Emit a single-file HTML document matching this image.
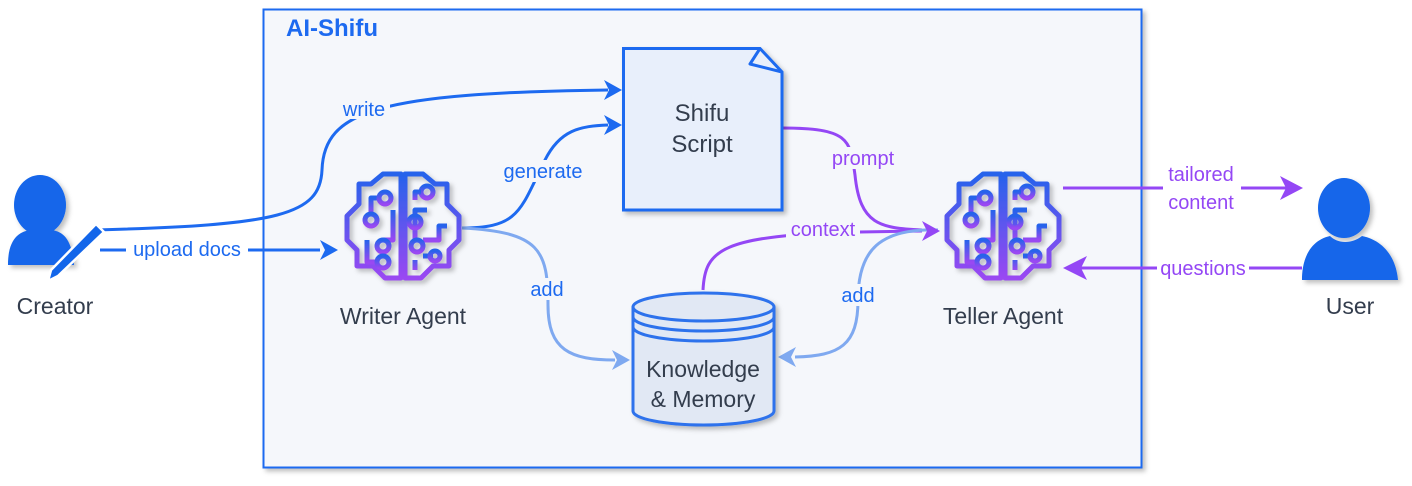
<!DOCTYPE html>
<html><head><style>
html,body{margin:0;padding:0;background:#fff;}
svg{display:block;font-family:"Liberation Sans",Helvetica,Arial,sans-serif;}
</style></head><body>
<svg width="1412" height="486" viewBox="0 0 1412 486" xmlns="http://www.w3.org/2000/svg">
<defs>
<linearGradient id="bg" x1="0" y1="0" x2="0" y2="1">
<stop offset="0" stop-color="#2563eb"/><stop offset="1" stop-color="#9a48f2"/>
</linearGradient>
<filter id="sh" x="-20%" y="-20%" width="150%" height="150%"><feDropShadow dx="3" dy="3" stdDeviation="2.5" flood-color="#000" flood-opacity="0.25"/></filter>
<g id="brain" fill="none" stroke="url(#bg)" stroke-width="5" stroke-linejoin="round">
<path d="M58 4 L40 4 L28 14 L16 14 L16 34 L4 46 L4 70 L14 80 L14 96 L30 96 L42 108 L58 108 Z"/>
<path d="M62 4 L80 4 L92 14 L104 14 L104 34 L116 46 L116 70 L106 80 L106 96 L90 96 L78 108 L62 108 Z"/>
<path d="M28 44 L28 28 L36 28"/><circle cx="42" cy="28" r="6"/>
<circle cx="28" cy="50" r="6"/>
<path d="M50 40 L50 70 L40 70"/><circle cx="40" cy="76" r="6"/>
<path d="M24 70 L24 92 L34 92"/><circle cx="40" cy="92" r="6"/>
<path d="M72 70 L72 40 L84 40"/><circle cx="84" cy="22" r="6"/>
<path d="M72 30 L72 22 L78 22"/>
<circle cx="72" cy="52" r="6"/>
<path d="M80 70 L96 70 L96 56 L104 56"/><circle cx="74" cy="76" r="6"/>
<path d="M72 90 L72 100 M80 86 L90 86"/><circle cx="92" cy="86" r="5"/>
</g>
</defs>

<rect x="263.5" y="9.5" width="878" height="458" fill="#f5f7fb" stroke="#1d6af0" stroke-width="2" filter="url(#sh)"/>
<text x="286" y="36" font-size="24" font-weight="bold" fill="#1d6af0">AI-Shifu</text>

<g fill="none" stroke-width="3">
<path d="M96 230 C280 225 320 215 322 170 C324 110 380 93 608 90" stroke="#1d6af0"/>
<path d="M100 250 L320 250" stroke="#1d6af0"/>
<path d="M462 228 C520 228 520 210 545 160 C560 130 580 126 608 125" stroke="#1d6af0"/>
<path d="M462 228 C540 232 548 250 548 305 C548 350 570 360 615 360" stroke="#7fa9f0"/>
<path d="M782 128 C850 128 850 140 855 175 C860 225 880 228 922 230" stroke="#9447f5"/>
<path d="M703 290 C705 250 720 235 860 232 L922 231" stroke="#9447f5"/>
<path d="M938 230 C880 228 858 250 858 300 C858 345 840 356 795 357" stroke="#7fa9f0"/>
<path d="M1063 188 L1288 188" stroke="#9447f5"/>
<path d="M1302 268 L1078 268" stroke="#9447f5"/>
</g>
<g>
<path d="M622 90 L604 80 L609 90 L604 100 Z" fill="#1d6af0"/>
<path d="M622 125 L604 115 L609 125 L604 135 Z" fill="#1d6af0"/>
<path d="M338 250 L320 240 L325 250 L320 260 Z" fill="#1d6af0"/>
<path d="M630 360 L612 350 L617 360 L612 370 Z" fill="#7fa9f0"/>
<path d="M778 357 L796 347 L791 357 L796 367 Z" fill="#7fa9f0"/>
<path d="M940 231 L922 221 L927 231 L922 241 Z" fill="#9447f5"/>
<path d="M1303 188 L1280 176 L1286 188 L1280 200 Z" fill="#9447f5"/>
<path d="M1063 268 L1087 256 L1081 268 L1087 280 Z" fill="#9447f5"/>
</g>

<g font-size="20" text-anchor="middle">
<rect x="338" y="97" width="52" height="22" fill="#f5f7fb"/>
<text x="364" y="116" fill="#1d6af0">write</text>
<rect x="497" y="160" width="92" height="22" fill="#f5f7fb"/>
<text x="543" y="178" fill="#1d6af0">generate</text>
<rect x="126" y="238" width="122" height="22" fill="#fff"/>
<text x="187" y="256" fill="#1d6af0">upload docs</text>
<rect x="526" y="278" width="42" height="22" fill="#f5f7fb"/>
<text x="547" y="296" fill="#1d6af0">add</text>
<rect x="836" y="284" width="42" height="22" fill="#f5f7fb"/>
<text x="858" y="302" fill="#1d6af0">add</text>
<rect x="826" y="147" width="74" height="22" fill="#f5f7fb"/>
<text x="863" y="165" fill="#9447f5">prompt</text>
<rect x="786" y="218" width="74" height="22" fill="#f5f7fb"/>
<text x="823" y="236" fill="#9447f5">context</text>
<rect x="1163" y="162" width="78" height="52" fill="#fff"/>
<text x="1201" y="181" fill="#9447f5">tailored</text>
<text x="1201" y="209" fill="#9447f5">content</text>
<rect x="1157" y="258" width="92" height="22" fill="#fff"/>
<text x="1203" y="275" fill="#9447f5">questions</text>
</g>

<path d="M623.5 48.5 L760 48.5 L782 72 L782 210 L623.5 210 Z" fill="#e8effb" stroke="#1d6af0" stroke-width="3" filter="url(#sh)"/>
<path d="M760 48.5 L750 64 L782 72" fill="none" stroke="#1d6af0" stroke-width="3" stroke-linejoin="round"/>
<text x="702" y="121" font-size="24" fill="#333d4d" text-anchor="middle">Shifu</text>
<text x="702" y="152" font-size="24" fill="#333d4d" text-anchor="middle">Script</text>

<g filter="url(#sh)">
<path d="M633 307 L633 411 A70.5 14 0 0 0 774 411 L774 307 A70.5 14 0 0 0 633 307 Z" fill="#e1e8f4" stroke="#2d72ec" stroke-width="3"/>
</g>
<path d="M633 307 A70.5 14 0 0 0 774 307 M633 317 A70.5 14 0 0 0 774 317 M633 327 A70.5 14 0 0 0 774 327" fill="none" stroke="#2d72ec" stroke-width="3"/>
<text x="703" y="377" font-size="23" fill="#333d4d" text-anchor="middle">Knowledge</text>
<text x="703" y="407" font-size="23" fill="#333d4d" text-anchor="middle">&amp; Memory</text>

<g filter="url(#sh)"><use href="#brain" x="343" y="170"/></g>
<g filter="url(#sh)"><use href="#brain" x="943" y="170"/></g>
<text x="403" y="324" font-size="23" fill="#333d4d" text-anchor="middle">Writer Agent</text>
<text x="1003" y="324" font-size="23" fill="#333d4d" text-anchor="middle">Teller Agent</text>

<g fill="#1366ea" filter="url(#sh)">
<ellipse cx="40" cy="205" rx="26" ry="30"/>
<path d="M8 265 C8 240 18 232 30 230 C36 236 46 236 52 230 C64 232 72 240 74 265 Z"/>
</g>
<path d="M96 224 L104 232 L58 276 L48 281 L51 270 Z" fill="#1366ea" stroke="#fff" stroke-width="2.5" stroke-linejoin="round"/>
<text x="55" y="314" font-size="23" fill="#333d4d" text-anchor="middle">Creator</text>

<g fill="#1366ea" filter="url(#sh)">
<ellipse cx="1344" cy="208" rx="26" ry="30"/>
<path d="M1302 280 C1302 256 1312 240 1330 236 C1338 244 1352 244 1362 236 C1382 240 1396 256 1398 280 Z"/>
</g>
<text x="1350" y="314" font-size="23" fill="#333d4d" text-anchor="middle">User</text>
</svg>
</body></html>
